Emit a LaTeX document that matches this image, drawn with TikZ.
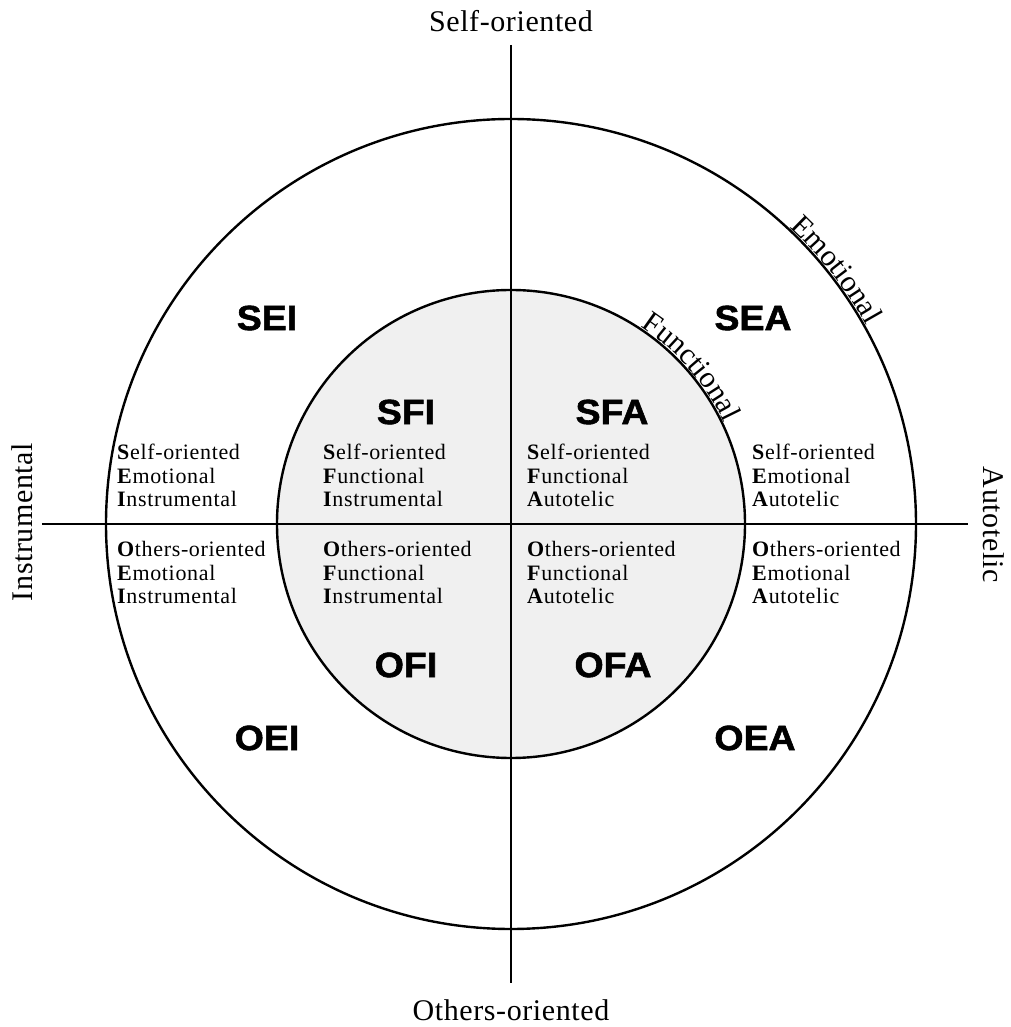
\documentclass[tikz,border=0pt]{standalone}
\usepackage{fontspec}
\setmainfont{Liberation Serif}
\newfontfamily\codefont[FakeStretch=1.07, BoldFeatures={FakeBold=1.6}]{Liberation Sans}
\usetikzlibrary{decorations.text}
\definecolor{innerfill}{HTML}{F0F0F0}
\tikzset{
  ring/.style={line width=2.4pt},
  axisline/.style={line width=2pt},
  code/.style={font=\codefont\bfseries\fontsize{35}{35}\selectfont, inner sep=0pt},
  lbl/.style={font=\fontsize{22}{22}\selectfont\addfontfeature{LetterSpace=3}, anchor=base west, inner sep=0pt},
  axislbl/.style={font=\fontsize{30}{30}\selectfont\addfontfeature{LetterSpace=2}, anchor=base, inner sep=0pt},
}
\newcommand\tblock[6]{%
  \node[lbl] (#1a) at (#2,#3) {#4};
  \node[lbl] (#1b) at (#2,#3-23.5) {#5};
  \node[lbl] (#1c) at (#2,#3-47) {#6};}
\begin{document}
\begin{tikzpicture}[x=1pt,y=1pt]
\useasboundingbox (-511,-503) rectangle (499,524);
% circles
\fill[innerfill] (0,0) circle (234);
\draw[ring] (0,0) circle (405);
\draw[ring] (0,0) circle (234);
% axes
\coordinate (top) at (0,479);
\coordinate (bot) at (0,-459);
\coordinate (lft) at (-469,0);
\coordinate (rgt) at (457,0);
\draw[axisline] (top) -- (bot);
\draw[axisline] (lft) -- (rgt);
% axis labels
\node[axislbl] (self) at (0,492) {Self-oriented};
\node[axislbl] (others) at (0,-496) {Others-oriented};
\node[axislbl, rotate=90] (instr) at (-478,2) {Instrumental};
\node[axislbl, rotate=-90] (auto) at (472,-1) {Autotelic};
% curved labels
\path[decorate, decoration={text along path, text align=center, raise=2pt,
  text={|\fontsize{30}{30}\selectfont|Emotional}}] (58:405) arc (58:18:405);
\path[decorate, decoration={text along path, text align=center, raise=2pt,
  text={|\fontsize{30}{30}\selectfont|Functional}}] (61:234) arc (61:21:234);
% codes
\node[code] (SEI) at (-244,206) {SEI};
\node[code] (SEA) at (242,206) {SEA};
\node[code] (SFI) at (-105,112) {SFI};
\node[code] (SFA) at (101,112) {SFA};
\node[code] (OFI) at (-105,-141) {OFI};
\node[code] (OFA) at (102,-141) {OFA};
\node[code] (OEI) at (-244,-214) {OEI};
\node[code] (OEA) at (244,-214) {OEA};
% text blocks
\tblock{sei}{-394}{64}{\textbf{S}elf-oriented}{\textbf{E}motional}{\textbf{I}nstrumental}
\tblock{sfi}{-188}{64}{\textbf{S}elf-oriented}{\textbf{F}unctional}{\textbf{I}nstrumental}
\tblock{sfa}{16}{64}{\textbf{S}elf-oriented}{\textbf{F}unctional}{\textbf{A}utotelic}
\tblock{sea}{241}{64}{\textbf{S}elf-oriented}{\textbf{E}motional}{\textbf{A}utotelic}
\tblock{oei}{-394}{-33}{\textbf{O}thers-oriented}{\textbf{E}motional}{\textbf{I}nstrumental}
\tblock{ofi}{-188}{-33}{\textbf{O}thers-oriented}{\textbf{F}unctional}{\textbf{I}nstrumental}
\tblock{ofa}{16}{-33}{\textbf{O}thers-oriented}{\textbf{F}unctional}{\textbf{A}utotelic}
\tblock{oea}{241}{-33}{\textbf{O}thers-oriented}{\textbf{E}motional}{\textbf{A}utotelic}
\end{tikzpicture}
\end{document}
